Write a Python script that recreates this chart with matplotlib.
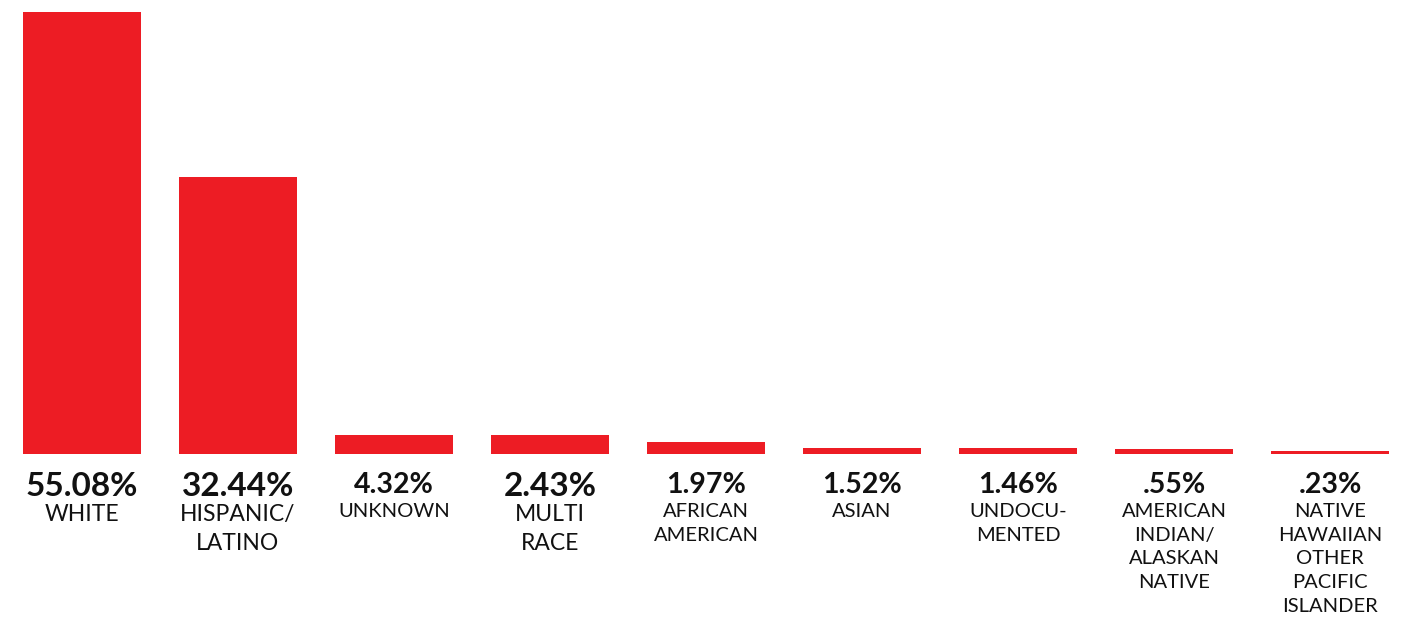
"""Bar chart of enrollment by ethnicity, recreated with matplotlib."""

import matplotlib.pyplot as plt

# label values and category names as printed under each bar
pct_labels = ["55.08%", "32.44%", "4.32%", "2.43%", "1.97%", "1.52%", "1.46%", ".55%", ".23%"]
categories = [
    "WHITE",
    "HISPANIC/\nLATINO",
    "UNKNOWN",
    "MULTI\nRACE",
    "AFRICAN\nAMERICAN",
    "ASIAN",
    "UNDOCU-\nMENTED",
    "AMERICAN\nINDIAN/\nALASKAN\nNATIVE",
    "NATIVE\nHAWAIIAN\nOTHER\nPACIFIC\nISLANDER",
]
# bar heights as drawn in the picture (same scale as the 55.08 bar)
bar_heights = [55.08, 34.5, 2.4, 2.4, 1.5, 0.7, 0.7, 0.65, 0.4]
# which labels use the larger type
big_type = [True, True, False, True, False, False, False, False, False]

RED = "#ED1C24"
INK = "#111111"


def main() -> None:
    fig = plt.figure(figsize=(14.09, 6.18), dpi=100)
    ax = fig.add_axes([0, 0, 1, 1])
    ax.axis("off")

    px_per_unit = 442 / 55.08
    ax.set_xlim(-82 / 156, (1409 - 82) / 156)
    ax.set_ylim(-164 / px_per_unit, (618 - 164) / px_per_unit)

    xs = range(len(categories))
    ax.bar(xs, bar_heights, width=118 / 156, color=RED, linewidth=0)

    for i, (pct, cat, big) in enumerate(zip(pct_labels, categories, big_type)):
        if big:
            pct_size, cat_size, pct_off, cat_off, ls = 24, 16.5, 18, 50, 1.5
        else:
            pct_size, cat_size, pct_off, cat_off, ls = 20.5, 14.5, 18, 49, 1.48
        ax.annotate(pct, xy=(i, 0), xytext=(0, -pct_off), textcoords="offset pixels",
                    ha="center", va="top", fontsize=pct_size, fontweight="bold",
                    family="Lato", color=INK)
        ax.annotate(cat, xy=(i, 0), xytext=(0, -cat_off), textcoords="offset pixels",
                    ha="center", va="top", fontsize=cat_size, family="Lato",
                    color=INK, linespacing=ls)

    fig.savefig("out.png", dpi=100, facecolor="white")
    plt.close(fig)


if __name__ == "__main__":
    main()
